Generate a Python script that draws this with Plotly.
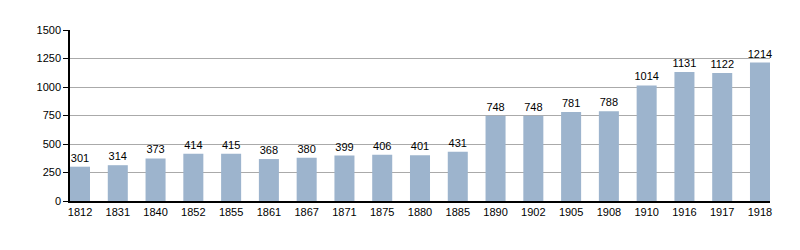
import plotly.graph_objects as go

years = ["1812", "1831", "1840", "1852", "1855", "1861", "1867", "1871", "1875", "1880",
         "1885", "1890", "1902", "1905", "1908", "1910", "1916", "1917", "1918"]
population = [301, 314, 373, 414, 415, 368, 380, 399, 406, 401,
              431, 748, 748, 781, 788, 1014, 1131, 1122, 1214]
y_ticks = [0, 250, 500, 750, 1000, 1250, 1500]

fig = go.Figure(go.Bar(
    x=years, y=population,
    marker=dict(color="#9db4cd", line=dict(width=0)),
    width=0.53,
    text=[str(v) for v in population],
    textposition="outside",
    textfont=dict(color="black", size=11),
    cliponaxis=False,
))

fig.update_layout(
    width=800, height=250,
    margin=dict(l=70, r=30, t=30, b=49),
    paper_bgcolor="white", plot_bgcolor="white",
    font=dict(family="Liberation Sans, Arial, sans-serif", size=11, color="black"),
    showlegend=False,
    xaxis=dict(type="category", range=[-0.265, 18.265], showgrid=False,
               showline=True, linecolor="black", linewidth=1.5, ticks="",
               tickfont=dict(size=11), fixedrange=True),
    yaxis=dict(range=[0, 1500], tickvals=y_ticks, showgrid=True, gridcolor="#aaaaaa",
               gridwidth=1, showline=True, linecolor="black", linewidth=1.5,
               ticks="outside", ticklen=5, tickcolor="black", zeroline=False,
               tickfont=dict(size=11)),
    uniformtext=dict(minsize=11, mode="show"),
)

fig.write_html("out.html")
